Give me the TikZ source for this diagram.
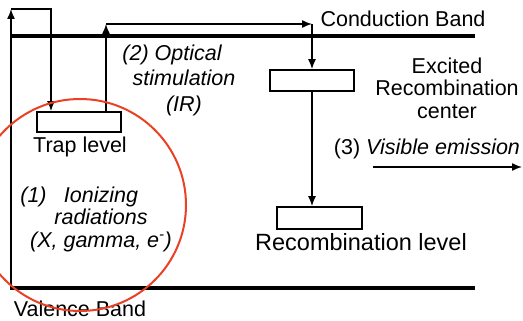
\documentclass[tikz,border=0pt]{standalone}
\usepackage{fontspec}
\setmainfont{Liberation Sans}
\usetikzlibrary{positioning,arrows.meta}
\definecolor{ringred}{RGB}{234,64,36}

\begin{document}
\begin{tikzpicture}[x = 1pt, y = -1pt,
  band/.style = {line width = 4pt},
  level/.style = {draw, shape = rectangle, line width = 1.8pt, minimum width = 84pt, minimum height = 20pt, inner sep = 0pt},
  trans/.style = {line width = 1.4pt, -{Latex[length = 10pt, width = 8pt]}},
  lbl/.style = {font = \fontsize{21.5}{22.5}\selectfont, inner sep = 0pt}]
\useasboundingbox (0,0) rectangle (523,321);
\clip (0,0) rectangle (523,321);

% bands
\coordinate (cb1) at (10,36);
\coordinate (cb2) at (475,36);
\coordinate (vb1) at (10,288);
\coordinate (vb2) at (475,288);
\draw[band] (cb1) -- (cb2);
\draw[band] (vb1) -- (vb2);
\node[lbl, anchor = base] (cbtext) at (403,27) {Conduction Band};
\node[lbl, anchor = base] (vbtext) at (80,316) {Valence Band};

% levels
\node[level] (trap) at (79,122) {};
\node[level, minimum height = 21pt] (exc) at (312,80.5) {};
\node[level, minimum width = 85pt, minimum height = 22pt] (rec) at (319.5,218) {};
\node[lbl, anchor = base] (traptext) at (80,153) {Trap level};
\node[lbl, align = center] (exctext) at (447,88) {Excited\\Recombination\\center};
\node[lbl, font = \fontsize{23.5}{25}\selectfont, anchor = base] (rectext) at (361,251) {Recombination level};

% (1) ionizing
\coordinate (c1) at (11,9);
\coordinate (c2) at (51,9);
\draw[trans] (c1 |- vb1) -- (c1);
\draw[trans] (c1) -- (c2) -- (c2 |- trap.north);
\node[lbl, anchor = base] (n1) at (33.5,202) {\itshape (1)};
\node[lbl, align = center, font = \fontsize{21.5}{22.5}\selectfont\itshape] (iontext) at (101,219) {Ionizing\\radiations\\(X, gamma, e\textsuperscript{-})};

% (2) optical stimulation
\coordinate (c3) at (106,24);
\coordinate (c4) at (312,24);
\draw[trans] (c3 |- trap.north) -- (c3);
\draw[trans] (c3) -- (c4);
\draw[trans] (c4) -- (c4 |- exc.north);
\node[lbl, align = center, font = \fontsize{21.5}{25.5}\selectfont\itshape] (opttext) at (184,80) {(2) Optical\hspace*{24pt}\\stimulation\\(IR)};

% (3) visible emission
\draw[trans] (exc.south) -- (exc.south |- rec.north);
\coordinate (em1) at (373,167);
\coordinate (em2) at (522,167);
\draw[trans] (em1) -- (em2);
\node[lbl, anchor = base] (emtext) at (427,155) {(3) \textit{Visible emission}};

\draw[ringred, line width = 2pt] (80,205) circle [radius = 106];
\end{tikzpicture}
\end{document}
